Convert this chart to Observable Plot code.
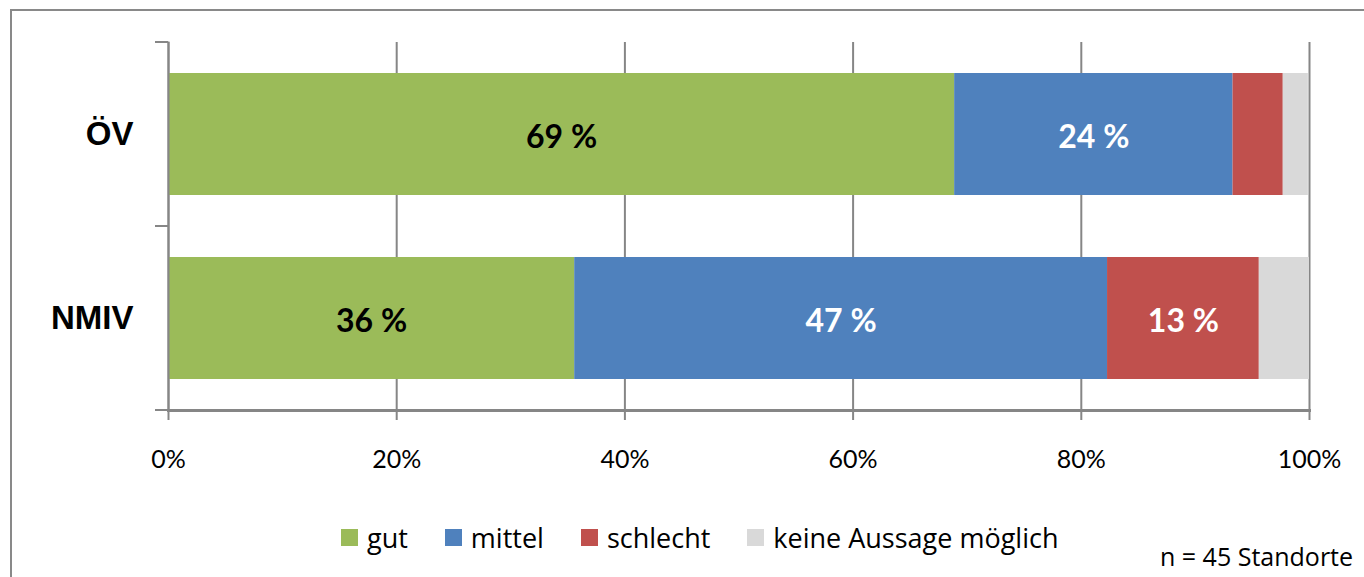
<!DOCTYPE html>
<html>
<head>
<meta charset="utf-8">
<script src="https://cdn.jsdelivr.net/npm/d3@7"></script>
<script src="https://cdn.jsdelivr.net/npm/@observablehq/plot@0.6"></script>
<style>
  html, body { margin: 0; padding: 0; background: #fff; width: 1364px; height: 577px; overflow: hidden; }
  #wrap { position: relative; width: 1364px; height: 577px; overflow: hidden; font-family: "Open Sans", Lato, sans-serif; }
  #frame { position: absolute; left: 10px; top: 9px; width: 1400px; height: 620px; border: 2px solid #898989; box-sizing: border-box; }
  #chart { position: absolute; left: 0; top: 0; }
  #legend { position: absolute; left: 341px; top: 517px; height: 40px; display: flex; align-items: center; gap: 37px; font-size: 27px; color: #000; }
  .item { display: flex; align-items: center; gap: 9px; }
  .sw { width: 17px; height: 17px; display: inline-block; }
  #caption { position: absolute; left: 1160px; top: 540px; font-size: 25px; line-height: 32px; white-space: nowrap; color: #000; }
</style>
</head>
<body>
<div id="wrap">
  <div id="frame"></div>
  <div id="chart"></div>
  <div id="legend"></div>
  <div id="caption"></div>
</div>
<script>
const categories = ["ÖV", "NMIV"];
const statuses = ["gut", "mittel", "schlecht", "keine Aussage möglich"];
const colors = ["#9BBB59", "#4F81BD", "#C0504D", "#D9D9D9"];
const labelColors = ["#000000", "#FFFFFF", "#FFFFFF", "#000000"];
const valuesOEV = [68.9, 24.4, 4.4, 2.2];
const valuesNMIV = [35.6, 46.7, 13.3, 4.4];
const xTicks = [0, 20, 40, 60, 80, 100];
const captionText = "n = 45 Standorte";

const seriesByCat = { "ÖV": valuesOEV, "NMIV": valuesNMIV };
const data = [];
for (const c of categories) {
  statuses.forEach((s, i) => data.push({ cat: c, status: s, value: seriesByCat[c][i], label: labelColors[i] }));
}

const gridColor = "#868686";

const plot = Plot.plot({
  width: 1364,
  height: 480,
  marginLeft: 168,
  marginRight: 55,
  marginTop: 42,
  marginBottom: 70,
  style: { fontFamily: "Lato, 'Open Sans', sans-serif", background: "transparent" },
  x: { domain: [0, 100] },
  y: { domain: categories, padding: 0 },
  color: { domain: statuses, range: colors },
  marks: [
    Plot.ruleX(xTicks, { stroke: gridColor, strokeWidth: 2 }),
    Plot.barX(data, { x: "value", y: "cat", fill: "status", order: statuses, insetTop: 31, insetBottom: 31 }),
    Plot.text(data, Plot.stackX({
      x: "value", y: "cat", order: statuses,
      text: d => d.value >= 10 ? Math.round(d.value) + " %" : "",
      fill: "label", fontSize: 32, fontWeight: "bold", dy: 3
    })),
    Plot.frame({ anchor: "bottom", stroke: gridColor, strokeWidth: 3 }),
    Plot.frame({ anchor: "left", stroke: gridColor, strokeWidth: 2 }),
    Plot.axisX({ ticks: xTicks, tickFormat: d => d + "%", tickSize: 10, tickPadding: 30, fontSize: 25, stroke: gridColor, strokeWidth: 2, color: "#000", label: null }),
    Plot.axisY({ tickSize: 0, tickPadding: 35, fontSize: 33, fontWeight: "bold", fontFamily: "'Liberation Sans', Arial, sans-serif", label: null, color: "#000" })
  ]
});

// category separator ticks on the y axis (Excel style, at band edges)
const ys = plot.scale("y");
const xs = plot.scale("x");
const x0 = xs.range[0];
const edges = [ys.range[0]];
categories.forEach((c, i) => edges.push(ys.range[0] + (i + 1) * ys.step));
d3.select(plot).append("g")
  .selectAll("line").data(edges).join("line")
  .attr("x1", x0 - 13).attr("x2", x0)
  .attr("y1", d => d).attr("y2", d => d)
  .attr("stroke", gridColor).attr("stroke-width", 2);

document.getElementById("chart").append(plot);

const legend = d3.select("#legend");
statuses.forEach((s, i) => {
  const it = legend.append("div").attr("class", "item");
  it.append("span").attr("class", "sw").style("background", colors[i]);
  it.append("span").text(s);
});
document.getElementById("caption").textContent = captionText;
</script>
</body>
</html>
